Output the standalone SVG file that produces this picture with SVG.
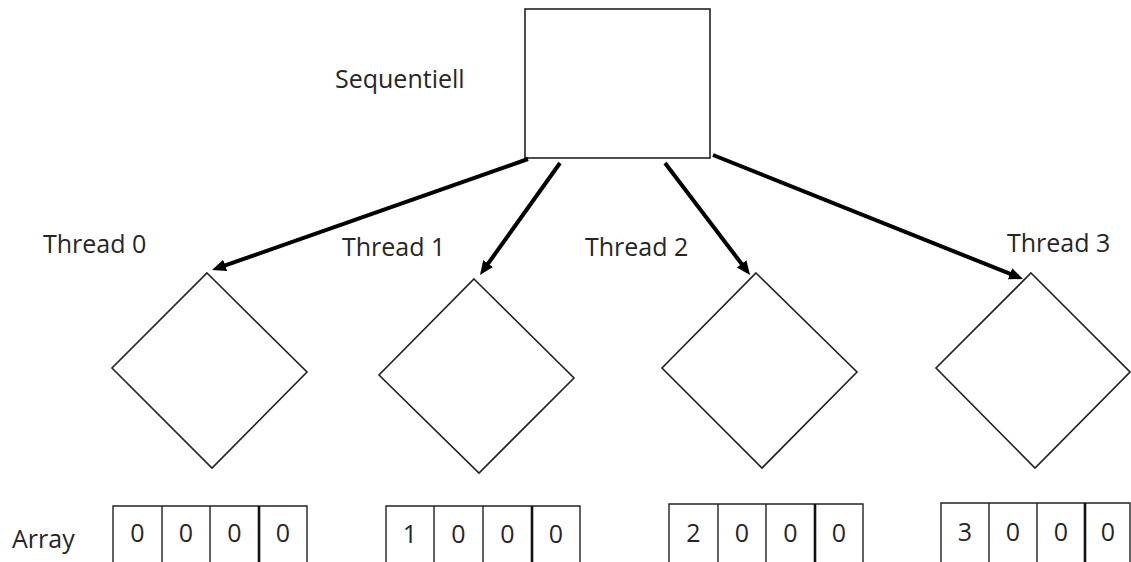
<svg xmlns="http://www.w3.org/2000/svg" width="1131" height="562" viewBox="0 0 1131 562">
  <style>
    .shape { fill: #ffffff; stroke: #222222; stroke-width: 1.6; }
    .cell { fill: none; stroke: #222222; stroke-width: 1.4; }
    .cell-bold { fill: none; stroke: #111111; stroke-width: 2.6; }
    .label { font-family: "Open Sans", "Noto Sans", "Liberation Sans", sans-serif; font-size: 25px; fill: #262626; }
    .digit { font-family: "Open Sans", "Noto Sans", "Liberation Sans", sans-serif; font-size: 25px; fill: #262626; text-anchor: middle; }
    .edge { stroke: #000000; stroke-width: 4; fill: none; marker-end: url(#head); }
  </style>
  <defs>
    <marker id="head" markerUnits="userSpaceOnUse" markerWidth="15" markerHeight="13" refX="3" refY="6" orient="auto">
      <path d="M0,0 L14,6 L0,12 z" fill="#000000"/>
    </marker>
  </defs>

  <rect width="1131" height="562" fill="#ffffff"/>

  <!-- sequential part -->
  <g id="sequentiell">
    <rect class="shape" x="525" y="9" width="185" height="149"/>
    <text class="label" x="335" y="88">Sequentiell</text>
  </g>

  <!-- fork connectors -->
  <g id="connectors">
    <line class="edge" x1="528" y1="159" x2="222.4" y2="266.4"/>
    <line class="edge" x1="560" y1="163" x2="486.4" y2="266"/>
    <line class="edge" x1="665" y1="163" x2="743.4" y2="266.2"/>
    <line class="edge" x1="713" y1="155" x2="1012.8" y2="274.9"/>
  </g>

  <!-- threads -->
  <g id="thread0">
    <polygon class="shape" points="207,273 307,372 212,468 112,368"/>
    <text class="label" x="43" y="253">Thread 0</text>
  </g>
  <g id="thread1">
    <polygon class="shape" points="474,279 574,378 479,473 379,375"/>
    <text class="label" x="342" y="256">Thread 1</text>
  </g>
  <g id="thread2">
    <polygon class="shape" points="756,273 857,372 762,468 662,368"/>
    <text class="label" x="585" y="256">Thread 2</text>
  </g>
  <g id="thread3">
    <polygon class="shape" points="1031,273 1130,372 1035,468 936,368"/>
    <text class="label" x="1007" y="252">Thread 3</text>
  </g>

  <!-- arrays -->
  <text class="label" x="12" y="548">Array</text>

  <g id="array0">
    <path class="cell" d="M113,580 V506 H307 V580 M162,506 V580 M210,506 V580"/>
    <path class="cell-bold" d="M259,506 V580"/>
    <text class="digit" x="137.5" y="542">0</text>
    <text class="digit" x="186" y="542">0</text>
    <text class="digit" x="234.5" y="542">0</text>
    <text class="digit" x="283" y="542">0</text>
  </g>
  <g id="array1">
    <path class="cell" d="M386,580 V506 H580 V580 M434,506 V580 M483,506 V580"/>
    <path class="cell-bold" d="M532,506 V580"/>
    <text class="digit" x="410" y="543">1</text>
    <text class="digit" x="458.5" y="543">0</text>
    <text class="digit" x="507.5" y="543">0</text>
    <text class="digit" x="556" y="543">0</text>
  </g>
  <g id="array2">
    <path class="cell" d="M669,580 V504 H863 V580 M718,504 V580 M766,504 V580"/>
    <path class="cell-bold" d="M815,504 V580"/>
    <text class="digit" x="693.5" y="542">2</text>
    <text class="digit" x="742" y="542">0</text>
    <text class="digit" x="790.5" y="542">0</text>
    <text class="digit" x="839" y="542">0</text>
  </g>
  <g id="array3">
    <path class="cell" d="M941,580 V503 H1130 V580 M989,503 V580 M1037,503 V580"/>
    <path class="cell-bold" d="M1085,503 V580"/>
    <text class="digit" x="965" y="541">3</text>
    <text class="digit" x="1013" y="541">0</text>
    <text class="digit" x="1061" y="541">0</text>
    <text class="digit" x="1108" y="541">0</text>
  </g>
</svg>
